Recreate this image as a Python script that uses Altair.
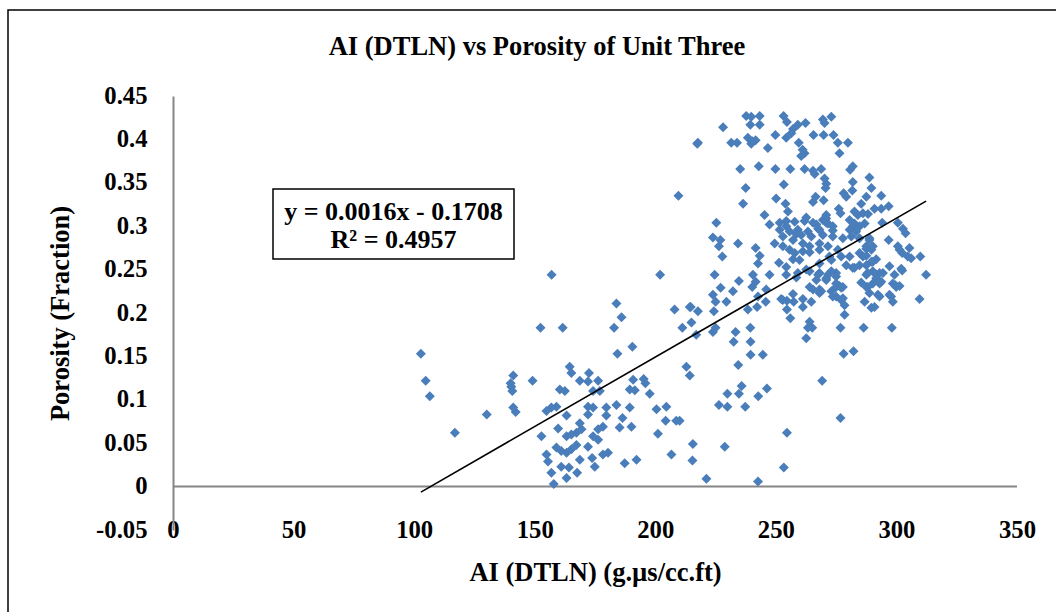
import altair as alt
import pandas as pd

# Acoustic impedance (DTLN) of Unit Three samples, g.µs/cc.ft
ai = [
    102.8, 104.8, 106.5, 116.9, 130.1, 141.1, 140.0, 140.3, 140.7, 141.1,
    142.1, 149.1, 152.8, 154.9, 155.5, 156.9, 157.9, 160.4, 162.5, 159.7,
    163.2, 154.9, 156.9, 159.0, 164.5, 165.2, 168.7, 172.5, 172.1, 176.3,
    174.2, 177.0, 184.3, 190.5, 163.2, 165.2, 167.3, 169.4, 168.7, 189.4,
    191.5, 195.2, 195.9, 197.7, 190.8, 183.9, 189.4, 186.4, 185.2, 190.1,
    200.5, 204.6, 204.3, 208.7, 201.1, 206.7, 187.3, 192.2, 179.7, 179.7,
    178.3, 176.3, 174.2, 176.3, 172.1, 174.2, 172.1, 159.0, 161.0, 163.2,
    165.2, 167.3, 161.0, 163.2, 164.2, 167.6, 168.7, 172.1, 173.8, 174.9,
    178.3, 180.4,
    152.4, 157.0, 161.6, 183.9, 186.0, 182.9, 202.0, 209.6, 217.4, 208.0,
    214.3, 215.0, 211.2, 217.0, 210.1, 215.6, 228.8, 215.4, 253.3, 221.2,
    242.6, 254.6, 276.8, 226.4, 229.9, 237.3, 229.9, 234.7, 235.8, 242.7,
    246.3, 269.2, 212.9, 214.3, 234.4, 239.5, 244.6, 239.5, 239.4, 232.5,
    233.3, 223.9, 225.0, 278.1, 282.2, 262.6, 263.3, 265.1, 264.0, 276.8,
    286.4, 298.1, 309.6, 312.3,
    237.7, 239.8, 243.3, 239.4, 243.3, 228.1, 253.2, 254.6, 259.1, 262.3,
    257.1, 256.4, 254.3, 269.5, 273.0, 270.2, 265.6, 269.8, 273.9, 249.8,
    217.7, 231.5, 233.9, 238.4, 240.2, 241.6, 239.8, 259.5, 275.7, 279.9,
    246.7, 261.1, 261.9, 260.5, 276.4, 235.2, 242.9, 249.8, 256.0, 261.9,
    265.4, 268.8, 266.1, 280.8, 281.9, 270.2, 270.9, 270.6, 288.8, 281.9,
    281.7, 289.6, 237.5, 253.3, 278.1, 279.2, 287.5, 293.7, 266.5, 265.4,
    269.8, 250.1, 236.4, 254.0, 285.4, 296.8, 290.9, 293.7, 276.1, 276.8,
    255.0, 282.6, 284.0, 286.1, 288.2, 245.3, 270.9, 269.5, 271.6, 300.6,
    294.1, 225.3, 247.4, 251.6, 254.3, 257.8, 261.9, 265.4, 266.8, 270.9,
    273.6, 280.6, 282.6, 284.7, 286.8, 302.7, 303.8, 251.6, 255.7, 259.1,
    263.3, 267.5, 223.9, 227.0, 252.9, 257.1, 260.5, 264.7, 269.5, 273.6,
    277.8, 281.3, 284.7, 288.8, 290.2, 287.5, 296.8, 300.6, 302.4, 305.4,
    309.9, 304.7, 234.3, 249.5, 252.9, 241.6, 243.3, 242.6, 226.4, 227.8,
    255.7, 257.8, 261.2, 264.0, 268.1, 271.6, 275.7, 277.1, 280.6, 284.7,
    287.5, 289.6, 291.6, 251.3, 268.1, 273.0, 297.1, 302.4, 299.2, 224.6,
    240.5, 241.6, 240.2, 247.4, 234.7, 254.3, 259.1, 264.0, 268.1, 271.6,
    275.0, 279.2, 281.9, 284.7, 287.5, 290.2, 293.0, 285.4, 288.1, 291.6,
    293.7, 246.0, 245.8, 242.6, 242.2, 238.4, 227.1, 232.2, 229.5, 223.9,
    225.0, 224.3, 214.7, 217.7, 252.2, 254.6, 257.4, 254.6, 256.0, 261.2,
    264.7, 268.1, 273.0, 275.0, 277.1, 278.5, 278.5, 276.4, 286.8, 289.6,
    290.9, 293.0, 297.1, 298.5, 301.3, 299.6,
    254.3, 258.5, 262.6, 268.1, 270.9, 273.6, 261.2, 264.0, 268.1, 272.2,
    257.1, 259.8, 254.3, 258.5, 262.6, 266.8, 270.9, 275.0, 264.0, 268.1,
    273.6, 252.9, 257.1, 261.2,
    281.9, 283.3, 280.6, 288.8, 287.5, 289.6, 301.3, 306.1, 282.6, 286.1,
    287.5, 290.2, 288.1, 291.6, 294.4, 302.0, 298.5, 299.9, 293.0, 290.2,
    287.5, 288.8, 292.3, 297.8, 275.0, 277.8,
    267.5, 265.4, 268.8, 270.9, 273.0, 275.0, 277.1, 277.8,
]

# Porosity (fraction) of the same samples
porosity = [
    0.153, 0.122, 0.104, 0.062, 0.083, 0.128, 0.119, 0.115, 0.110, 0.091,
    0.086, 0.122, 0.058, 0.037, 0.029, 0.016, 0.003, 0.112, 0.110, 0.067,
    0.082, 0.087, 0.091, 0.092, 0.138, 0.131, 0.122, 0.131, 0.121, 0.122,
    0.110, 0.110, 0.153, 0.161, 0.058, 0.060, 0.062, 0.066, 0.073, 0.112,
    0.111, 0.124, 0.119, 0.107, 0.123, 0.094, 0.091, 0.079, 0.068, 0.069,
    0.089, 0.092, 0.076, 0.076, 0.061, 0.037, 0.027, 0.031, 0.091, 0.082,
    0.069, 0.066, 0.058, 0.054, 0.092, 0.091, 0.083, 0.045, 0.041, 0.039,
    0.043, 0.048, 0.023, 0.010, 0.022, 0.016, 0.031, 0.046, 0.033, 0.023,
    0.037, 0.039,
    0.183, 0.244, 0.183, 0.211, 0.195, 0.183, 0.244, 0.335, 0.395, 0.204,
    0.207, 0.189, 0.183, 0.175, 0.076, 0.049, 0.046, 0.030, 0.022, 0.009,
    0.006, 0.062, 0.079, 0.094, 0.092, 0.092, 0.107, 0.107, 0.116, 0.104,
    0.113, 0.122, 0.138, 0.128, 0.140, 0.152, 0.152, 0.167, 0.183, 0.167,
    0.178, 0.178, 0.183, 0.153, 0.156, 0.171, 0.183, 0.183, 0.190, 0.183,
    0.183, 0.183, 0.216, 0.244,
    0.427, 0.426, 0.427, 0.417, 0.417, 0.414, 0.427, 0.420, 0.417, 0.419,
    0.412, 0.407, 0.402, 0.423, 0.426, 0.419, 0.405, 0.405, 0.405, 0.405,
    0.396, 0.396, 0.396, 0.402, 0.398, 0.399, 0.395, 0.396, 0.396, 0.396,
    0.390, 0.388, 0.384, 0.381, 0.384, 0.366, 0.369, 0.366, 0.366, 0.366,
    0.364, 0.366, 0.360, 0.365, 0.369, 0.355, 0.349, 0.344, 0.356, 0.351,
    0.341, 0.344, 0.344, 0.348, 0.338, 0.334, 0.334, 0.335, 0.334, 0.328,
    0.330, 0.332, 0.326, 0.326, 0.326, 0.323, 0.320, 0.320, 0.320, 0.315,
    0.317, 0.317, 0.313, 0.315, 0.314, 0.313, 0.313, 0.307, 0.303, 0.304,
    0.304, 0.304, 0.302, 0.304, 0.306, 0.305, 0.306, 0.304, 0.302, 0.304,
    0.300, 0.307, 0.303, 0.300, 0.303, 0.297, 0.292, 0.296, 0.294, 0.296,
    0.294, 0.297, 0.287, 0.284, 0.288, 0.284, 0.290, 0.288, 0.290, 0.288,
    0.286, 0.288, 0.286, 0.284, 0.277, 0.274, 0.284, 0.277, 0.269, 0.275,
    0.265, 0.265, 0.280, 0.280, 0.277, 0.275, 0.266, 0.257, 0.277, 0.265,
    0.273, 0.269, 0.271, 0.277, 0.273, 0.277, 0.273, 0.265, 0.265, 0.269,
    0.266, 0.259, 0.262, 0.258, 0.257, 0.261, 0.254, 0.249, 0.244, 0.244,
    0.244, 0.236, 0.230, 0.244, 0.237, 0.244, 0.246, 0.248, 0.246, 0.244,
    0.246, 0.255, 0.252, 0.255, 0.244, 0.248, 0.246, 0.235, 0.230, 0.240,
    0.236, 0.227, 0.213, 0.219, 0.207, 0.204, 0.229, 0.225, 0.213, 0.221,
    0.213, 0.202, 0.207, 0.202, 0.216, 0.214, 0.213, 0.204, 0.194, 0.216,
    0.213, 0.227, 0.225, 0.219, 0.215, 0.209, 0.198, 0.231, 0.213, 0.206,
    0.207, 0.219, 0.221, 0.213, 0.231, 0.232,
    0.300, 0.291, 0.310, 0.296, 0.309, 0.295, 0.280, 0.270, 0.280, 0.265,
    0.262, 0.261, 0.253, 0.241, 0.250, 0.238, 0.240, 0.234, 0.230, 0.223,
    0.219, 0.215, 0.222, 0.207,
    0.300, 0.294, 0.296, 0.286, 0.277, 0.273, 0.273, 0.263, 0.252, 0.265,
    0.255, 0.259, 0.246, 0.244, 0.246, 0.251, 0.234, 0.230, 0.234, 0.234,
    0.230, 0.223, 0.221, 0.219, 0.230, 0.230,
    0.244, 0.227, 0.225, 0.238, 0.248, 0.242, 0.229, 0.217,
]

# Linear trend reported for the data
slope = 0.0016
intercept = -0.1708
r_squared = 0.4957

chart_title = "AI (DTLN) vs Porosity of Unit Three"
x_ticks = [0, 50, 100, 150, 200, 250, 300, 350]
y_ticks = [-0.05, 0, 0.05, 0.1, 0.15, 0.2, 0.25, 0.3, 0.35, 0.4, 0.45]

FONT = "Liberation Serif"
W, H = 844, 434
TICK_SIZE = 24.7
TITLE_SIZE = 26.5

points_df = pd.DataFrame({"ai": ai, "porosity": porosity})
x0, x1 = min(ai), max(ai)
trend_df = pd.DataFrame({
    "ai": [x0, x1],
    "porosity": [slope * x0 + intercept, slope * x1 + intercept],
})
one = pd.DataFrame({"k": [0]})

x_scale = alt.Scale(domain=[0, 350], nice=False, zero=False)
y_scale = alt.Scale(domain=[-0.05, 0.45], nice=False, zero=False)

x_axis = alt.Axis(
    values=x_ticks, domain=False, ticks=False, tickSize=0, grid=False,
    labelFont=FONT, labelFontSize=TICK_SIZE, labelFontWeight="bold",
    labelColor="black", labelBaseline="middle", labelPadding=0,
    labelAlign="center",
    title="AI (DTLN) (g.µs/cc.ft)", titleFont=FONT, titleFontSize=TITLE_SIZE,
    titleFontWeight="bold", titleColor="black",
    titleX=W / 2, titleY=42, titleBaseline="middle", titleAlign="center",
)
y_axis = alt.Axis(
    values=y_ticks, domain=True, domainColor="#868686", domainWidth=2,
    ticks=False, tickSize=0, grid=False,
    labelFont=FONT, labelFontSize=TICK_SIZE, labelFontWeight="bold",
    labelColor="black", labelPadding=26, labelBaseline="middle",
    labelExpr="replace(format(datum.value, '.2~f'), '\u2212', '-')",
    title="Porosity (Fraction)", titleFont=FONT, titleFontSize=TITLE_SIZE,
    titleFontWeight="bold", titleColor="black",
    titleX=-113, titleY=H / 2, titleBaseline="middle", titleAlign="center",
    titleAngle=270,
)

border = alt.Chart(one).mark_rect(
    filled=False, stroke="black", strokeWidth=1.5
).encode(
    x=alt.value(-165), x2=alt.value(900), y=alt.value(-86), y2=alt.value(540)
)

title_text = alt.Chart(one).mark_text(
    font=FONT, fontSize=TITLE_SIZE, fontWeight="bold", color="black",
    align="center", baseline="middle",
).encode(x=alt.value(364), y=alt.value(-49), text=alt.value(chart_title))

zero_line = alt.Chart(one).mark_rule(color="#868686", strokeWidth=2).encode(
    y=alt.datum(0, scale=y_scale), x=alt.value(0), x2=alt.value(W)
)

scatter = alt.Chart(points_df).mark_point(
    shape="diamond", filled=True, size=100, color="#4a7ebb", opacity=1
).encode(
    x=alt.X("ai:Q", scale=x_scale, axis=x_axis),
    y=alt.Y("porosity:Q", scale=y_scale, axis=y_axis),
)

trend = alt.Chart(trend_df).mark_line(color="black", strokeWidth=1.6).encode(
    x=alt.X("ai:Q", scale=x_scale),
    y=alt.Y("porosity:Q", scale=y_scale),
)

eq_box = alt.Chart(one).mark_rect(
    fill="white", stroke="black", strokeWidth=1.5
).encode(
    x=alt.value(100), x2=alt.value(341), y=alt.value(93), y2=alt.value(163)
)

eq_text = alt.Chart(one).mark_text(
    font=FONT, fontSize=26, fontWeight="bold", color="black",
    align="center", baseline="middle",
).encode(
    x=alt.value(220.5), y=alt.value(116),
    text=alt.value(f"y = {slope}x - {abs(intercept)}"),
)
r2_text = alt.Chart(one).mark_text(
    font=FONT, fontSize=26, fontWeight="bold", color="black",
    align="center", baseline="middle",
).encode(
    x=alt.value(220.5), y=alt.value(144),
    text=alt.value(f"R² = {r_squared}"),
)

chart = alt.layer(
    border, title_text, zero_line, scatter, trend, eq_box, eq_text, r2_text
).properties(
    width=W, height=H,
    autosize=alt.AutoSizeParams(type="none"),
    padding={"left": 173, "top": 96, "right": 39, "bottom": 82},
    background="white",
).configure_view(stroke=None)

chart.save("out.html", embed_options={"renderer": "svg", "actions": False})
